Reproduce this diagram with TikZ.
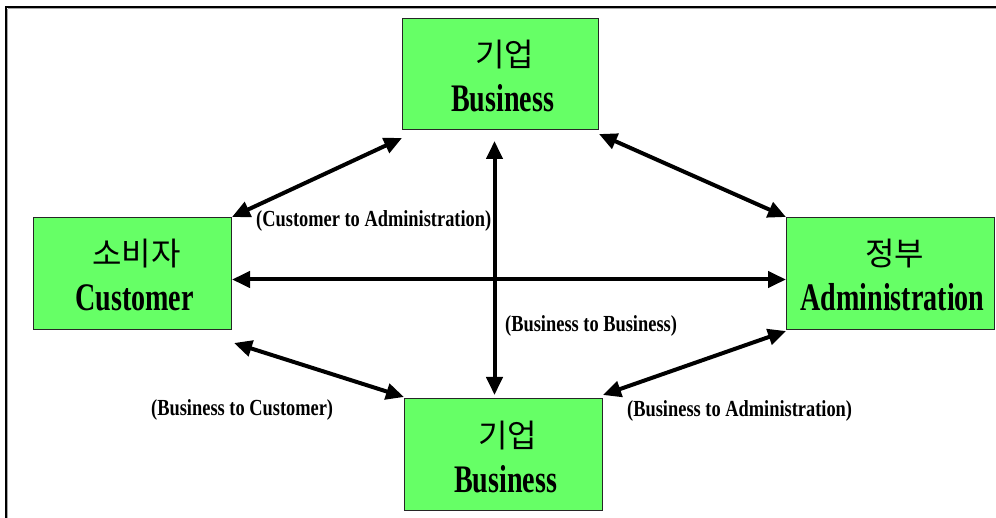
\documentclass[tikz,border=0pt]{standalone}
\usepackage{fontspec}
\setmainfont{Liberation Serif}
\newfontfamily\kofont{Noto Sans CJK KR}
\newfontfamily\boxen[FakeStretch=0.72]{Liberation Serif}
\newfontfamily\lblen[FakeStretch=0.8]{Liberation Serif}
\usetikzlibrary{arrows.meta,calc}
\definecolor{entgreen}{RGB}{102,255,102}
\tikzset{
  ent/.style={draw=black!85, line width=1pt, fill=entgreen, inner sep=0pt, anchor=north west},
  kor/.style={font=\kofont\fontsize{32}{32}\selectfont, inner sep=0pt, anchor=base},
  eng/.style={font=\boxen\bfseries\fontsize{39}{39}\selectfont, inner sep=0pt, anchor=base},
  lbl/.style={font=\lblen\bfseries\fontsize{23}{23}\selectfont, inner sep=0pt, anchor=base west},
  link/.style={line width=4pt, {Triangle[length=18pt,width=16pt]}-{Triangle[length=18pt,width=16pt]}},
  frameline/.style={line width=2.5pt, black},
  frameshade/.style={line width=1.2pt, black!35},
}
\begin{document}
\begin{tikzpicture}[x=1pt,y=-1pt]
\useasboundingbox (0,0) rectangle (996,518);
% frame
\coordinate (fTL) at (6,7);
\coordinate (fTR) at (996,7);
\coordinate (fBL) at (6,518);
\draw[frameshade] ([xshift=1.8pt,yshift=-1.8pt]fTL) -- ([yshift=-1.8pt]fTR);
\draw[frameshade] ([xshift=1.8pt,yshift=-1.8pt]fTL) -- ([xshift=1.8pt]fBL);
\draw[frameline] (fTR) -- (fTL) -- (fBL);

% boxes
\node[ent, minimum width=196pt, minimum height=111pt] (bt) at (402,18) {};
\node[ent, minimum width=198pt, minimum height=112pt] (cu) at (33,217) {};
\node[ent, minimum width=208pt, minimum height=112pt] (ad) at (786,217) {};
\node[ent, minimum width=198pt, minimum height=112pt] (bb) at (404,398) {};

% box texts
\foreach \b/\k/\e in {bt/기업/Business, cu/소비자/Customer, ad/정부/Administration, bb/기업/Business}{
  \node[kor] (\b k) at ($(\b.north)+(4,49)$) {\k};
  \node[eng] (\b e) at ($(\b.north)+(2,94)$) {\e};
}

% connectors
\draw[link] (cu.north east) -- ([yshift=-8pt]bt.south west);
\draw[link] ([yshift=-4pt]bt.south east) -- (ad.north west);
\draw[link] ([yshift=-6pt]cu.east) -- ([yshift=-6pt]ad.west);
\draw[link] ([xshift=-6pt,yshift=-11pt]bt.south) -- ([xshift=-9pt,yshift=3pt]bb.north);
\draw[link] ([xshift=2pt,yshift=-13pt]cu.south east) -- ([yshift=1pt]bb.north west);
\draw[link] ([yshift=3pt]bb.north east) -- ([yshift=-1pt]ad.south west);

% labels
\node[lbl] (lca) at (256,227) {(Customer to Administration)};
\node[lbl] (lbb) at (505,332) {(Business to Business)};
\node[lbl] (lbc) at (151,416) {(Business to Customer)};
\node[lbl] (lba) at (627,417) {(Business to Administration)};
\end{tikzpicture}
\end{document}
